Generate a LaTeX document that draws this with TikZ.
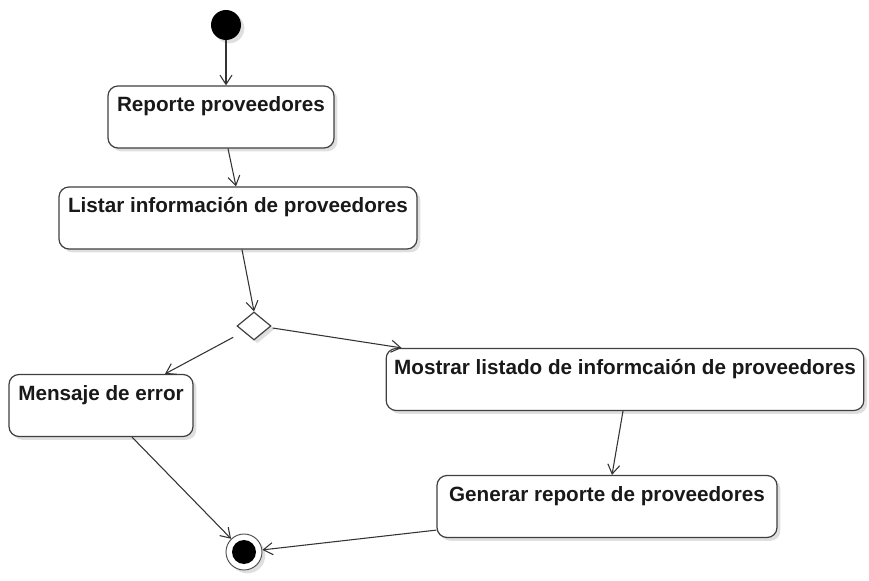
\documentclass[tikz,border=0pt]{standalone}
\usepackage{fontspec}
\setmainfont{Liberation Sans}
\usepackage{tikz}
\usetikzlibrary{shapes.geometric,arrows.meta,positioning,calc,shadows}

\begin{document}
\begin{tikzpicture}[
  x=0.75pt, y=-0.75pt,
  sombra/.style={drop shadow={shadow xshift=2.5pt,shadow yshift=-2.5pt,fill=black!18,opacity=0.7}},
  actividad/.style={draw=black!75,line width=0.9pt,rounded corners=7.5pt,fill=white,sombra,
    inner xsep=6pt,inner ysep=3pt,text height=16.5pt,text depth=24pt,
    font=\bfseries\fontsize{15.5pt}{18pt}\selectfont,text=black!90},
  inicio/.style={circle,fill=black,minimum size=22.5pt,inner sep=0pt,sombra},
  fin/.style={circle,draw=black!70,line width=0.7pt,fill=white,minimum size=27pt,inner sep=0pt,sombra,
    path picture={\fill[black] (path picture bounding box.center) circle (9pt);}},
  decision/.style={diamond,draw=black!75,line width=0.9pt,fill=white,minimum width=25.5pt,minimum height=21pt,inner sep=0pt,sombra},
  flecha/.style={-{Straight Barb[length=7pt,width=9pt]},draw=black!80,line width=0.8pt},
]
\useasboundingbox (0,0) rectangle (869,581);

\node[inicio]    (ini) at (226,25) {};
\node[actividad,minimum width=169.5pt] (rep) at (221,117)   {Reporte proveedores};
\node[actividad,minimum width=268.5pt] (lis) at (238,218)   {Listar información de proveedores};
\node[decision]  (dec) at (254,326) {};
\node[actividad,minimum width=138pt]   (err) at (101,405.5) {Mensaje de error};
\node[actividad,minimum width=357pt]   (mos) at (625,379.5) {Mostrar listado de informcaión de proveedores};
\node[actividad,minimum width=255pt]   (gen) at (607,506.5) {Generar reporte de proveedores};
\node[fin]       (fin) at (244,552) {};

\draw[flecha] (ini) -- (ini |- rep.north);
\draw[flecha] ($(rep.south)+(7,0)$) -- ($(lis.north)+(-2,0)$);
\draw[flecha] ($(lis.south)+(4,0)$) -- (dec.north);
\draw[flecha] ($(dec.south west)+(-12,4)$) -- ($(err.north)+(64,0)$);
\draw[flecha] ($(dec.east)+(1,2)$) -- ($(mos.north west)+(16,0)$);
\draw[flecha] ($(mos.south)+(-2,0)$) -- ($(gen.north)+(5,0)$);
\draw[flecha] ($(err.south)+(31,0)$) -- (fin);
\draw[flecha] ($(gen.south west)+(0,-8)$) -- (fin);
\end{tikzpicture}
\end{document}
